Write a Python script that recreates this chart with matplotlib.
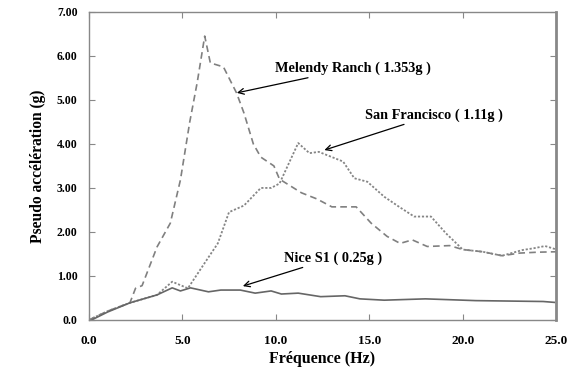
import matplotlib
matplotlib.use("Agg")
import matplotlib.pyplot as plt

plt.rcParams['font.family'] = ['Liberation Serif', 'DejaVu Serif']

# Melendy Ranch (1.353g)
mel_f = [0.0, 1.0, 2.2, 2.5, 2.85, 3.65, 4.36, 4.9, 5.4, 5.8, 6.2, 6.5, 7.2, 7.9, 8.3, 8.8, 9.2, 9.9, 10.2,
         11.37, 12.2, 13.0, 14.3, 15.1, 15.95, 16.65, 17.3, 18.1, 19.3, 20.0, 21.07, 22.1, 23.05, 24.0, 25.0]
mel_a = [0.0, 0.2, 0.39, 0.72, 0.78, 1.66, 2.2, 3.18, 4.5, 5.4, 6.45, 5.84, 5.75, 5.16, 4.7, 4.0, 3.7, 3.5, 3.2,
         2.89, 2.75, 2.57, 2.57, 2.2, 1.9, 1.74, 1.82, 1.67, 1.69, 1.6, 1.55, 1.46, 1.52, 1.54, 1.55]

# San Francisco (1.11g)
sf_f = [0.0, 1.0, 2.2, 3.65, 4.46, 5.3, 6.3, 6.9, 7.5, 8.3, 9.2, 9.75, 10.2, 11.2, 11.8, 12.3, 13.6, 14.2,
        14.9, 15.8, 16.6, 17.4, 18.3, 19.1, 20.0, 21.07, 22.1, 23.2, 23.8, 24.4, 24.8, 25.0]
sf_a = [0.0, 0.2, 0.39, 0.57, 0.87, 0.72, 1.36, 1.74, 2.45, 2.6, 3.0, 3.0, 3.1, 4.02, 3.79, 3.82, 3.6, 3.22,
        3.14, 2.8, 2.57, 2.35, 2.35, 1.97, 1.6, 1.55, 1.46, 1.59, 1.63, 1.68, 1.63, 1.6]

# Nice S1 (0.25g)
nice_f = [0.15, 1.0, 2.2, 3.65, 4.46, 4.9, 5.44, 6.4, 7.06, 8.1, 8.9, 9.75, 10.3, 11.2, 12.1, 12.4, 13.7,
          14.5, 15.8, 18.0, 20.7, 24.3, 24.9]
nice_a = [0.0, 0.18, 0.39, 0.57, 0.73, 0.66, 0.73, 0.64, 0.68, 0.68, 0.61, 0.66, 0.59, 0.61, 0.55, 0.53, 0.55,
          0.48, 0.45, 0.48, 0.44, 0.42, 0.40]

x_ticks = [0, 5, 10, 15, 20, 25]
x_labels = ["0.0", "5.0", "10.0", "15.0", "20.0", "25.0"]
y_ticks = [0, 1, 2, 3, 4, 5, 6, 7]
y_labels = ["0.0", "1.00", "2.00", "3.00", "4.00", "5.00", "6.00", "7.00"]

fig = plt.figure(figsize=(5.88, 3.71), dpi=100)
ax = fig.add_axes([0.151, 0.1375, 0.795, 0.8305])

ax.plot(mel_f, mel_a, color='#808080', lw=1.2, linestyle=(0, (4, 2.5)))
ax.plot(sf_f, sf_a, color='#858585', lw=1.3, linestyle=(0, (1.2, 1.0)))
ax.plot(nice_f, nice_a, color='#666666', lw=1.2, linestyle='-')

ax.set_xlim(0, 25)
ax.set_ylim(0, 7)
ax.set_xticks(x_ticks)
ax.set_xticklabels(x_labels, fontsize=9.5, fontweight='bold')
ax.set_yticks(y_ticks)
ax.set_yticklabels(y_labels, fontsize=8.5, fontweight='bold')
ax.tick_params(direction='in', top=True, right=True, length=4, color='#888888')
ax.tick_params(axis='y', pad=8)
ax.tick_params(axis='x', pad=11)

for s in ['top', 'left', 'bottom']:
    ax.spines[s].set_color('#888888')
    ax.spines[s].set_linewidth(1.0)
ax.spines['right'].set_color('#888888')
ax.spines['right'].set_linewidth(2.0)

ax.set_xlabel("Fréquence (Hz)", fontsize=11.5, fontweight='bold', labelpad=3)
ax.set_ylabel("Pseudo accélération (g)", fontsize=11.2, fontweight='bold', labelpad=8)

arrow = dict(arrowstyle='->', color='black', lw=0.9, shrinkA=0, shrinkB=0)
ax.annotate("Melendy Ranch ( 1.353g )", xy=(7.92, 5.16), xytext=(9.95, 5.72),
            fontsize=10.3, fontweight='bold', va='center', ha='left', arrowprops=arrow)
ax.annotate("San Francisco ( 1.11g )", xy=(12.6, 3.86), xytext=(14.75, 4.66),
            fontsize=10.3, fontweight='bold', va='center', ha='left', arrowprops=arrow)
ax.annotate("Nice S1 ( 0.25g )", xy=(8.24, 0.77), xytext=(10.45, 1.41),
            fontsize=10.3, fontweight='bold', va='center', ha='left', arrowprops=arrow)

fig.savefig("out.png", dpi=100)
